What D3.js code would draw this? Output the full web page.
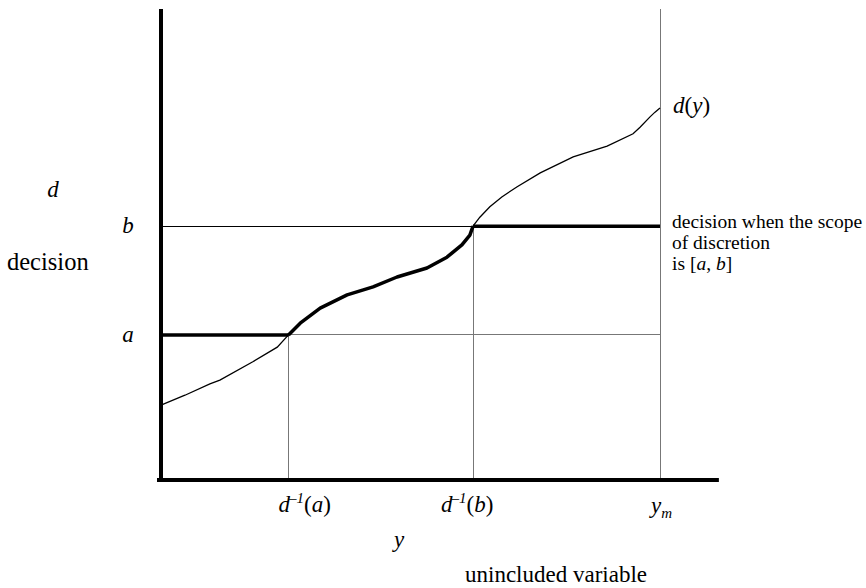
<!DOCTYPE html>
<html lang="en">
<head>
<meta charset="utf-8">
<title>Decision and the scope of discretion</title>
<script src="https://d3js.org/d3.v7.min.js"></script>
<style>
  body { margin: 0; background: white; }
  svg { display: block; }
  text { font-family: "Liberation Serif", "Times New Roman", serif; fill: #000; }
  .it { font-style: italic; }
</style>
</head>
<body>
<div id="chart"></div>
<script>
// the curve d(y) (y and d both on a 0..100 scale)
var curveY = [0, 4.8, 9.8, 11.8, 18.4, 23.3, 25.55, 27.9, 31.9, 37.3, 42.5, 47.3, 53.3, 57.3, 60.3, 61.9, 62.53,
              63.9, 65.9, 68.3, 71.3, 76.0, 82.6, 89.4, 94.6, 96.0, 98.0, 99.0, 100];
var curveD = [15.9, 18.0, 20.4, 21.2, 25.1, 28.2, 30.8, 33.3, 36.5, 39.3, 41.0, 43.1, 45.0, 47.3, 49.9, 52.0, 53.9,
              55.8, 58.0, 60.1, 62.2, 65.2, 68.6, 70.9, 73.5, 74.9, 77.1, 78.1, 79.0];

// bounds of the scope of discretion [a, b]
var levels = [30.8, 53.9];
var levelNames = ["a", "b"];
// d^-1(a), d^-1(b), y_m
var xTicks = [25.55, 62.53, 100];

var width = 866, height = 588;

var svg = d3.select("#chart").append("svg")
    .attr("width", width)
    .attr("height", height);

var x = d3.scaleLinear().domain([0, 100]).range([161, 660]);
var y = d3.scaleLinear().domain([0, 100]).range([480, 9]);

var pts = curveY.map(function(v, i){ return {y: v, d: curveD[i]}; });
var line = d3.line().x(function(p){ return x(p.y); }).y(function(p){ return y(p.d); });

var ya = levels[0], yb = levels[1];
var invA = xTicks[0], invB = xTicks[1], yMax = xTicks[2];

// thin guide lines
var guides = svg.append("g").attr("shape-rendering", "crispEdges");
guides.append("line")   // y_m
    .attr("x1", x(yMax)).attr("x2", x(yMax)).attr("y1", y(100)).attr("y2", y(0))
    .attr("stroke", "#777").attr("stroke-width", 1);
guides.append("line")   // d^-1(a)
    .attr("x1", x(invA)).attr("x2", x(invA)).attr("y1", y(ya)).attr("y2", y(0))
    .attr("stroke", "#777").attr("stroke-width", 1);
guides.append("line")   // d^-1(b)
    .attr("x1", x(invB)).attr("x2", x(invB)).attr("y1", y(yb)).attr("y2", y(0))
    .attr("stroke", "#777").attr("stroke-width", 1);
guides.append("line")   // level a
    .attr("x1", x(invA)).attr("x2", x(yMax)).attr("y1", y(ya)).attr("y2", y(ya))
    .attr("stroke", "#777").attr("stroke-width", 1);
guides.append("line")   // level b
    .attr("x1", x(0)).attr("x2", x(invB)).attr("y1", y(yb)).attr("y2", y(yb))
    .attr("stroke", "#000").attr("stroke-width", 1);

// d(y)
svg.append("path")
    .datum(pts)
    .attr("d", line)
    .attr("fill", "none")
    .attr("stroke", "#000")
    .attr("stroke-width", 1.3);

// the decision with discretion [a, b]
svg.append("path")
    .datum(pts.filter(function(p){ return p.y >= invA && p.y <= invB; }))
    .attr("d", line)
    .attr("fill", "none")
    .attr("stroke", "#000")
    .attr("stroke-width", 3.5)
    .attr("stroke-linejoin", "round");
svg.append("line")
    .attr("x1", x(0)).attr("x2", x(invA)).attr("y1", y(ya)).attr("y2", y(ya))
    .attr("stroke", "#000").attr("stroke-width", 3.5);
svg.append("line")
    .attr("x1", x(invB)).attr("x2", x(yMax)).attr("y1", y(yb)).attr("y2", y(yb))
    .attr("stroke", "#000").attr("stroke-width", 3.5);

// axes
svg.append("line")
    .attr("x1", x(0)).attr("x2", x(0)).attr("y1", y(100)).attr("y2", y(0) + 2)
    .attr("stroke", "#000").attr("stroke-width", 4);
svg.append("line")
    .attr("x1", x(0) - 4).attr("x2", x(111.8)).attr("y1", y(0)).attr("y2", y(0))
    .attr("stroke", "#000").attr("stroke-width", 4);

// y axis labels
svg.append("text").attr("class", "it").attr("x", 53).attr("y", 197)
    .attr("text-anchor", "middle").style("font-size", "23px").text("d");
svg.append("text").attr("x", 7).attr("y", 270)
    .style("font-size", "24.5px").text("decision");
levels.forEach(function(v, i){
    svg.append("text").attr("class", "it")
        .attr("x", 128).attr("y", y(v) + 7)
        .attr("text-anchor", "middle").style("font-size", "23px")
        .text(levelNames[i]);
});

// curve label
var dl = svg.append("text").attr("x", x(yMax) + 13).attr("y", y(79) + 5).style("font-size", "23px");
dl.append("tspan").attr("class", "it").text("d");
dl.append("tspan").text("(");
dl.append("tspan").attr("class", "it").text("y");
dl.append("tspan").text(")");

// note on the right
var note = svg.append("g").style("font-size", "19.5px");
note.append("text").attr("x", 672).attr("y", 228).text("decision when the scope");
note.append("text").attr("x", 672).attr("y", 249).text("of discretion");
var n3 = note.append("text").attr("x", 672).attr("y", 270);
n3.append("tspan").text("is [");
n3.append("tspan").attr("class", "it").text("a");
n3.append("tspan").text(", ");
n3.append("tspan").attr("class", "it").text("b");
n3.append("tspan").text("]");

// x axis labels
xTicks.slice(0, 2).forEach(function(v, i){
    var t = svg.append("text").attr("x", x(v) + (i == 0 ? -10 : -32)).attr("y", 512)
        .style("font-size", "23px");
    t.append("tspan").attr("class", "it").text("d");
    t.append("tspan").attr("class", "it").attr("dx", -1).attr("dy", -9).style("font-size", "15px").text("\u20131");
    t.append("tspan").attr("dy", 9).text("(");
    t.append("tspan").attr("class", "it").text(levelNames[i]);
    t.append("tspan").text(")");
});
var ym = svg.append("text").attr("x", x(yMax) - 9).attr("y", 513).style("font-size", "23px");
ym.append("tspan").attr("class", "it").text("y");
ym.append("tspan").attr("class", "it").attr("dy", 5).style("font-size", "15px").text("m");

svg.append("text").attr("class", "it").attr("x", 399).attr("y", 547)
    .attr("text-anchor", "middle").style("font-size", "23px").text("y");
svg.append("text").attr("x", 465).attr("y", 582)
    .style("font-size", "23px").text("unincluded variable");
</script>
</body>
</html>
